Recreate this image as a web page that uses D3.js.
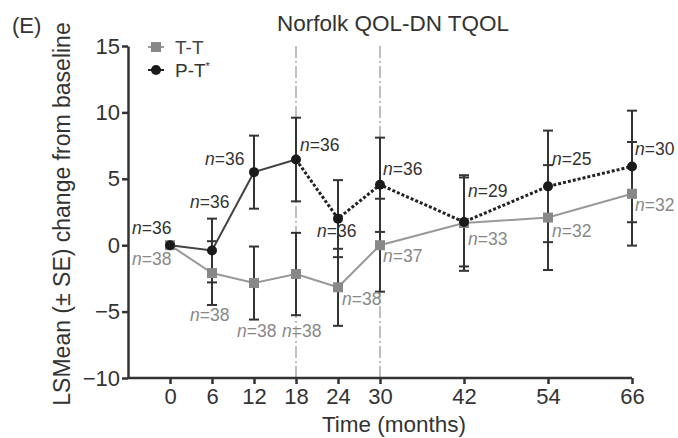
<!DOCTYPE html>
<html>
<head>
<meta charset="utf-8">
<script src="https://cdn.jsdelivr.net/npm/d3@7"></script>
<style>
  body { margin: 0; background: #fff; }
  svg { font-family: "Liberation Sans", Arial, sans-serif; }
  .axis path, .axis line { stroke: #333; stroke-width: 2.5px; }
  .axis text { font-size: 22px; fill: #333; }
</style>
</head>
<body>
<div id="chart"></div>
<script>
// data
var months = [0, 6, 12, 18, 24, 30, 42, 54, 66];
var xTicks = [0, 6, 12, 18, 24, 30, 42, 54, 66];
var yTicks = [-10, -5, 0, 5, 10, 15];
var markerLines = [18, 30];

var ttMean = [0, -2.1, -2.85, -2.17, -3.17, 0, 1.67, 2.08, 3.87];
var ttSE   = [0, 2.4, 2.75, 3.1, 2.9, 3.5, 3.6, 3.95, 3.9];
var ttN    = [38, 38, 38, 38, 38, 37, 33, 32, 32];

var ptMean = [0, -0.4, 5.5, 6.45, 2.0, 4.55, 1.75, 4.43, 5.93];
var ptSE   = [0, 2.4, 2.75, 3.15, 2.9, 3.55, 3.35, 4.2, 4.2];
var ptN    = [36, 36, 36, 36, 36, 36, 29, 25, 30];
var ptDashedFrom = 18;

// label placement (pixels from the point)
var ptLabelOff = [[-38, -11], [-22, -43], [-49, -7], [4, -9], [-21, 18], [3, -10], [4, -25], [4, -21], [3, -11]];
var ttLabelOff = [[-38, 20], [-22, 48], [-17, 54], [-14, 63], [4, 18], [3, 17], [4, 22], [4, 19], [3, 17]];

var svgWidth = 678;
var svgHeight = 438;

var svg = d3.select("#chart")
    .append("svg")
    .attr("width", svgWidth)
    .attr("height", svgHeight);

var x = d3.scaleLinear().domain([-6, 66]).range([128, 632]);
var y = d3.scaleLinear().domain([-10, 15]).range([378, 46]);

var tt = months.map((m, i) => ({ m: m, v: ttMean[i], se: ttSE[i], n: ttN[i], off: ttLabelOff[i] }));
var pt = months.map((m, i) => ({ m: m, v: ptMean[i], se: ptSE[i], n: ptN[i], off: ptLabelOff[i] }));

// vertical reference lines
svg.selectAll(".vref")
    .data(markerLines)
    .enter()
    .append("line")
    .attr("x1", d => x(d))
    .attr("x2", d => x(d))
    .attr("y1", 46)
    .attr("y2", y(-10))
    .attr("stroke", "#aaa")
    .attr("stroke-width", 1.5)
    .attr("stroke-dasharray", "12,3,2,3");

// axes
svg.append("g")
    .attr("class", "axis")
    .attr("transform", `translate(0, ${y(-10)})`)
    .call(d3.axisBottom(x).tickValues(xTicks).tickSize(6).tickPadding(4).tickSizeOuter(0))
    .call(g => g.select(".domain").attr("d", `M${x(-6)},0H${x(66)}`));

svg.append("g")
    .attr("class", "axis")
    .attr("transform", `translate(${x(-6)}, 0)`)
    .call(d3.axisLeft(y).tickValues(yTicks).tickSize(6).tickPadding(2).tickSizeOuter(0)
        .tickFormat(d => d < 0 ? "\u2212" + Math.abs(d) : d));

// error bars
function errorBars(data, cls) {
    var g = svg.append("g").attr("class", cls);
    var withErr = data.filter(d => d.se > 0);
    g.selectAll(".eb").data(withErr).enter().append("line")
        .attr("x1", d => x(d.m)).attr("x2", d => x(d.m))
        .attr("y1", d => y(d.v - d.se)).attr("y2", d => y(d.v + d.se))
        .attr("stroke", "#333").attr("stroke-width", 2);
    g.selectAll(".capT").data(withErr).enter().append("line")
        .attr("x1", d => x(d.m) - 5).attr("x2", d => x(d.m) + 5)
        .attr("y1", d => y(d.v + d.se)).attr("y2", d => y(d.v + d.se))
        .attr("stroke", "#333").attr("stroke-width", 2);
    g.selectAll(".capB").data(withErr).enter().append("line")
        .attr("x1", d => x(d.m) - 5).attr("x2", d => x(d.m) + 5)
        .attr("y1", d => y(d.v - d.se)).attr("y2", d => y(d.v - d.se))
        .attr("stroke", "#333").attr("stroke-width", 2);
}
errorBars(tt, "ttErr");
errorBars(pt, "ptErr");

var line = d3.line().x(d => x(d.m)).y(d => y(d.v));

// T-T line
svg.append("path")
    .datum(tt)
    .attr("d", line)
    .attr("fill", "none")
    .attr("stroke", "#999")
    .attr("stroke-width", 2);

// P-T line: solid then dashed
svg.append("path")
    .datum(pt.filter(d => d.m <= ptDashedFrom))
    .attr("d", line)
    .attr("fill", "none")
    .attr("stroke", "#444")
    .attr("stroke-width", 2);
svg.append("path")
    .datum(pt.filter(d => d.m >= ptDashedFrom))
    .attr("d", line)
    .attr("fill", "none")
    .attr("stroke", "#222")
    .attr("stroke-width", 3)
    .attr("stroke-dasharray", "3,2");

// markers
svg.selectAll(".ttPt")
    .data(tt)
    .enter()
    .append("rect")
    .attr("x", d => x(d.m) - 5)
    .attr("y", d => y(d.v) - 5)
    .attr("width", 10)
    .attr("height", 10)
    .attr("fill", "#888");

svg.selectAll(".ptPt")
    .data(pt)
    .enter()
    .append("circle")
    .attr("cx", d => x(d.m))
    .attr("cy", d => y(d.v))
    .attr("r", 5)
    .attr("fill", "#1a1a1a");

// n labels
function nLabels(data, color) {
    var t = svg.append("g").selectAll("text")
        .data(data)
        .enter()
        .append("text")
        .attr("x", d => x(d.m) + d.off[0])
        .attr("y", d => y(d.v) + d.off[1])
        .attr("font-size", 17.5)
        .attr("fill", color);
    t.append("tspan").attr("font-style", "italic").text("n");
    t.append("tspan").text(d => "=" + d.n);
}
nLabels(pt, "#333");
nLabels(tt, "#888");

// legend
svg.append("line").attr("x1", 148).attr("x2", 164).attr("y1", 47).attr("y2", 47)
    .attr("stroke", "#999").attr("stroke-width", 2);
svg.append("rect").attr("x", 151).attr("y", 42).attr("width", 10).attr("height", 10).attr("fill", "#888");
svg.append("text").attr("x", 175).attr("y", 54).attr("font-size", 19).attr("fill", "#444").text("T-T");

svg.append("line").attr("x1", 148).attr("x2", 164).attr("y1", 70).attr("y2", 70)
    .attr("stroke", "#222").attr("stroke-width", 2);
svg.append("circle").attr("cx", 156).attr("cy", 70).attr("r", 5).attr("fill", "#1a1a1a");
var ptLeg = svg.append("text").attr("x", 175).attr("y", 77).attr("font-size", 19).attr("fill", "#333").text("P-T");
ptLeg.append("tspan").attr("font-size", 11).attr("dy", -7).text("*");

// titles
svg.append("text")
    .attr("x", 393).attr("y", 31)
    .attr("text-anchor", "middle")
    .attr("font-size", 22.5)
    .attr("fill", "#333")
    .text("Norfolk QOL-DN TQOL");

svg.append("text")
    .attr("x", 12).attr("y", 33)
    .attr("font-size", 22)
    .attr("fill", "#333")
    .text("(E)");

svg.append("text")
    .attr("transform", "rotate(-90)")
    .attr("x", -214).attr("y", 70)
    .attr("text-anchor", "middle")
    .attr("font-size", 23)
    .attr("fill", "#333")
    .text("LSMean (\u00b1 SE) change from baseline");

svg.append("text")
    .attr("x", 394).attr("y", 432)
    .attr("text-anchor", "middle")
    .attr("font-size", 22.5)
    .attr("fill", "#333")
    .text("Time (months)");
</script>
</body>
</html>
